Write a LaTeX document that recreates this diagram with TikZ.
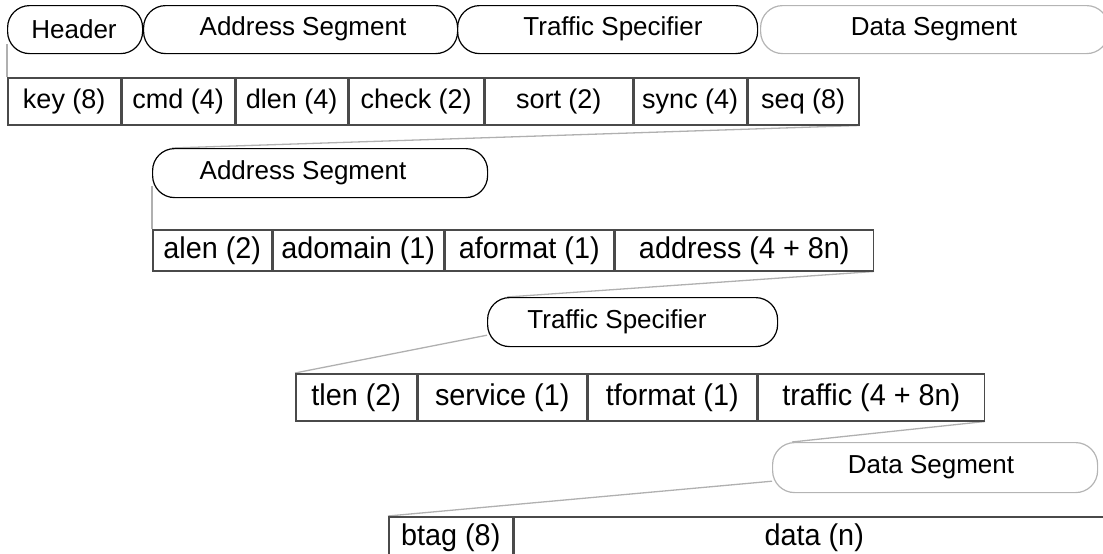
\documentclass[tikz,border=0pt]{standalone}
\usepackage{fontspec}
\setmainfont{Liberation Sans}
\newfontfamily\slimsans[FakeStretch=0.96]{Liberation Sans}
\usetikzlibrary{backgrounds}
\definecolor{boxgray}{HTML}{4A4A4A}
\definecolor{pillgray}{HTML}{B4B4B4}
\definecolor{linkgray}{HTML}{B0B0B0}
\begin{document}
\begin{tikzpicture}[x=1pt,y=-1pt,
  pilltext/.style={font=\fontsize{26}{30}\selectfont, inner sep=0pt},
  field/.style={font=\fontsize{27}{31}\selectfont, inner sep=0pt, draw=boxgray, line width=1.5pt, anchor=north west},
  subfield/.style={field, font=\slimsans\fontsize{30}{34}\selectfont},
  pill/.style={draw=black, line width=1.2pt, rounded corners=22pt, anchor=north west, inner sep=0pt},
  ghostpill/.style={pill, draw=pillgray},
  link/.style={draw=linkgray, line width=1.3pt}]
\useasboundingbox (0,0) rectangle (1103,554);
\clip (0,0) rectangle (1103,554);

% packet overview
\node[pill, minimum width=135pt, minimum height=48pt] (hdr) at (7,5) {};
\node[pill, minimum width=314pt, minimum height=48pt] (addr) at (143,5) {};
\node[pill, minimum width=300pt, minimum height=48pt] (traf) at (457,5) {};
\node[ghostpill, minimum width=348pt, minimum height=48pt] (dseg) at (760,5) {};
\node[pilltext] at (74,29) {Header};
\node[pilltext] at (303,29) {Address Segment};
\node[pilltext] at (613,29) {Traffic Specifier};
\node[pilltext] at (934,29) {Data Segment};

% header fields
\node[field, minimum width=113pt, minimum height=47pt] (key) at (7,77) {key (8)};
\node[field, minimum width=112pt, minimum height=47pt] (cmd) at (key.north east) {cmd (4)};
\node[field, minimum width=112pt, minimum height=47pt] (dlen) at (cmd.north east) {dlen (4)};
\node[field, minimum width=134pt, minimum height=47pt] (check) at (dlen.north east) {check (2)};
\node[field, minimum width=148pt, minimum height=47pt] (sort) at (check.north east) {sort (2)};
\node[field, minimum width=112pt, minimum height=47pt] (sync) at (sort.north east) {sync (4)};
\node[field, minimum width=111pt, minimum height=47pt] (seq) at (sync.north east) {seq (8)};

% address segment
\node[pill, minimum width=335pt, minimum height=49pt] (ap2) at (152,148) {};
\node[pilltext] at (303,172.5) {Address Segment};
\node[subfield, minimum width=119pt, minimum height=41pt] (alen) at (152,229) {alen (2)};
\node[subfield, minimum width=170pt, minimum height=41pt] (adomain) at (alen.north east) {adomain (1)};
\node[subfield, minimum width=169pt, minimum height=41pt] (aformat) at (adomain.north east) {aformat (1)};
\node[subfield, minimum width=258pt, minimum height=41pt] (address) at (aformat.north east) {address (4 + 8n)};

% traffic specifier
\node[pill, minimum width=290pt, minimum height=49pt] (tp3) at (487,297) {};
\node[pilltext] at (617,321.5) {Traffic Specifier};
\node[subfield, minimum width=121pt, minimum height=47pt] (tlen) at (295,373) {tlen (2)};
\node[subfield, minimum width=168pt, minimum height=47pt] (service) at (tlen.north east) {service (1)};
\node[subfield, minimum width=169pt, minimum height=47pt] (tformat) at (service.north east) {tformat (1)};
\node[subfield, minimum width=226pt, minimum height=47pt] (traffic) at (tformat.north east) {traffic (4 + 8n)};

% data segment
\node[ghostpill, minimum width=325pt, minimum height=50pt] (dp4) at (772,442) {};
\node[pilltext] at (931,467) {Data Segment};
\node[subfield, minimum width=124pt, minimum height=42pt] (btag) at (388,516) {btag (8)};
\node[subfield, minimum width=600pt, minimum height=42pt] (data) at (btag.north east) {data (n)};

% zoom connectors
\begin{scope}[on background layer]
\draw[link] ([yshift=10pt]hdr.south west) -- (key.north west);
\draw[link] (seq.south east) -- ([xshift=20pt]ap2.north west);
\draw[link] ([yshift=12pt]ap2.south west) -- (alen.north west);
\draw[link] (address.south east) -- ([xshift=20pt]tp3.north west);
\draw[link] ([yshift=12pt]tp3.south west) -- (tlen.north west);
\draw[link] (traffic.south east) -- ([xshift=20pt]dp4.north west);
\draw[link] ([yshift=12pt]dp4.south west) -- (btag.north west);
\end{scope}
\end{tikzpicture}
\end{document}
